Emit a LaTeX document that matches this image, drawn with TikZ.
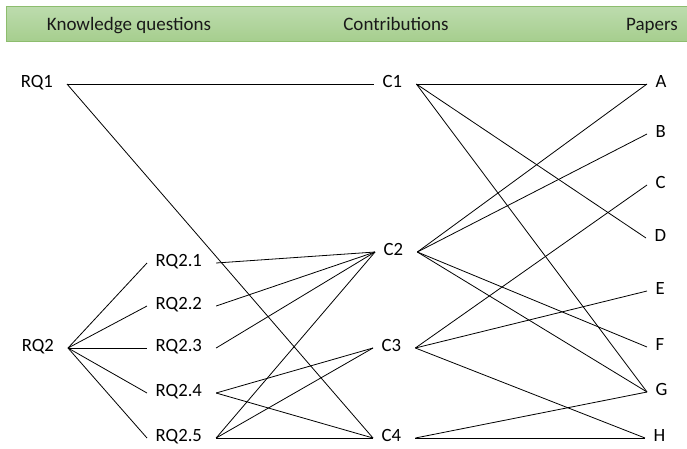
\documentclass[tikz,border=0pt]{standalone}
\usepackage{fontspec}
\setmainfont{Carlito}
\definecolor{hdrtop}{HTML}{BDDCAE}
\definecolor{hdrbot}{HTML}{A6CE8E}
\definecolor{hdrline}{HTML}{8DBD6E}
\begin{document}
\begin{tikzpicture}[x=1pt,y=-1pt,
  lbl/.style={inner xsep=8.5pt, inner ysep=0pt, text height=6.4pt, text depth=0pt,
              font=\fontsize{18.7}{22}\selectfont},
  outgap/.style={execute at end node=\kern5.5pt},
  link/.style={line width=0.8pt, black},
  hdr/.style={font=\fontsize{19}{22}\selectfont, text=black!90, inner sep=0pt,
              text height=12pt, text depth=0pt}]
\useasboundingbox (0,0) rectangle (687,448);

% header band
\shade[top color=hdrtop, bottom color=hdrbot, draw=hdrline, line width=1pt]
  (6,6) rectangle (700,41);
\node[hdr] (hkq) at (129,24) {Knowledge questions};
\node[hdr] (hco) at (396,24) {Contributions};
\node[hdr] (hpa) at (652,24) {Papers};

% knowledge questions
\node[lbl,outgap,anchor=east] (rq1) at (67,84) {RQ1};
\node[lbl,outgap,anchor=east] (rq2) at (68,348) {RQ2};
\node[lbl,outgap,anchor=west] (rq21) at (147,263) {RQ2.1};
\node[lbl,outgap,anchor=west] (rq22) at (147,306) {RQ2.2};
\node[lbl,outgap,anchor=west] (rq23) at (147,348) {RQ2.3};
\node[lbl,outgap,anchor=west] (rq24) at (147,393) {RQ2.4};
\node[lbl,outgap,anchor=west] (rq25) at (147,438) {RQ2.5};

% contributions
\node[lbl,outgap,anchor=west] (c1) at (374,84) {C1};
\node[lbl,outgap,anchor=west] (c2) at (375,252) {C2};
\node[lbl,outgap,anchor=west] (c3) at (373,348) {C3};
\node[lbl,outgap,anchor=west] (c4) at (373,438) {C4};

% papers
\node[lbl,anchor=west] (pa) at (647,84) {A};
\node[lbl,anchor=west] (pb) at (647,134) {B};
\node[lbl,anchor=west] (pc) at (647,185) {C};
\node[lbl,anchor=west] (pd) at (646,238) {D};
\node[lbl,anchor=west] (pe) at (647,291) {E};
\node[lbl,anchor=west] (pf) at (647,347) {F};
\node[lbl,anchor=west] (pg) at (647,392) {G};
\node[lbl,anchor=west] (ph) at (645,438) {H};

% question hierarchy
\foreach \s in {rq21,rq22,rq23,rq24,rq25}
  \draw[link] (rq2.east) -- (\s.west);

% questions to contributions
\draw[link] (rq1.east) -- (c1.west);
\draw[link] (rq1.east) -- (c4.west);
\draw[link] (rq21.east) -- (c2.west);
\draw[link] (rq22.east) -- (c2.west);
\draw[link] (rq23.east) -- (c2.west);
\draw[link] (rq24.east) -- (c3.west);
\draw[link] (rq24.east) -- (c4.west);
\draw[link] (rq25.east) -- (c2.west);
\draw[link] (rq25.east) -- (c3.west);
\draw[link] (rq25.east) -- (c4.west);

% contributions to papers
\draw[link] (c1.east) -- (pa.west);
\draw[link] (c1.east) -- (pd.west);
\draw[link] (c1.east) -- (pg.west);
\draw[link] (c2.east) -- (pa.west);
\draw[link] (c2.east) -- (pb.west);
\draw[link] (c2.east) -- (pf.west);
\draw[link] (c2.east) -- (pg.west);
\draw[link] (c3.east) -- (pc.west);
\draw[link] (c3.east) -- (pe.west);
\draw[link] (c3.east) -- (ph.west);
\draw[link] (c4.east) -- (pg.west);
\draw[link] (c4.east) -- (ph.west);
\end{tikzpicture}
\end{document}
